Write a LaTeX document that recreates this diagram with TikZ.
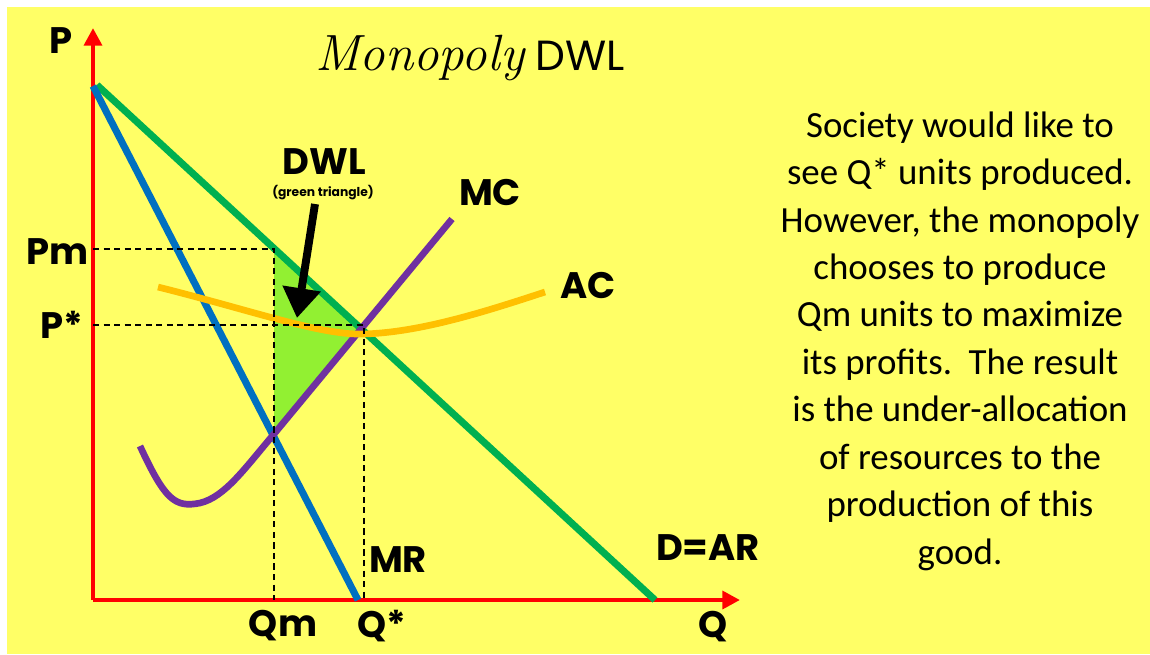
\documentclass[tikz,border=0pt]{standalone}
\usepackage{fontspec}
\setmainfont{Poppins}
\newfontfamily\notefont{Carlito}
\newfontfamily\titlefont{Latin Modern Roman}
\usetikzlibrary{arrows.meta}
\definecolor{bgyellow}{RGB}{255,255,102}
\definecolor{dgreen}{RGB}{0,176,80}
\definecolor{mrblue}{RGB}{0,112,192}
\definecolor{mcpurple}{RGB}{112,48,160}
\definecolor{acorange}{RGB}{255,192,0}
\definecolor{dwlfill}{RGB}{146,240,50}

\begin{document}
\begin{tikzpicture}[x=0.02cm,y=-0.02cm,>={Triangle[width=10pt,length=10pt]},
  lbl/.style={font=\fontsize{21}{24}\selectfont\bfseries},
  curve/.style={line width=4pt},
  guide/.style={line width=1.2pt,dash pattern=on 3.5pt off 2.5pt}]
\useasboundingbox (0,0) rectangle (1150,654);
\fill[bgyellow] (7,7) rectangle (1150,654);
% key points
\coordinate (O) at (93,600);
\coordinate (Ptop) at (93,28);
\coordinate (Qend) at (740,600);
\coordinate (dA) at (97,85);
\coordinate (dB) at (655,600);
\coordinate (mrA) at (93,86);
\coordinate (mrB) at (358,600);
\coordinate (top) at (274,249);
\coordinate (low) at (274,434);
\coordinate (eq) at (363,326);
\coordinate (mcEnd) at (452,219);
% dead weight loss
\fill[dwlfill] (top) -- (low) -- (eq) -- cycle;
% axes
\draw[->,red,line width=2.8pt] (O) -- (Ptop);
\draw[->,red,line width=2.8pt] (O) -- (Qend);
% curves
\draw[curve,dgreen] (dA) -- (dB);
\draw[curve,mrblue] (mrA) -- (mrB);
\draw[curve,mcpurple,line width=3.8pt] (140,446) .. controls (165,500) and (175,508) .. (200,503)
  .. controls (225,497) and (245,468) .. (low) -- (mcEnd);
\draw[curve,acorange,line width=3.8pt] (158,287) .. controls (250,310) and (320,335) .. (362,334)
  .. controls (420,333) and (490,310) .. (545,292);
% guides
\draw[guide] (93,249) -| (274,600);
\draw[guide] (93,325) -| (364,600);
% labels
\node[lbl] (pLab) at (61,41) {P};
\node[font=\fontsize{24}{28}\selectfont] (title) at (470,58) {{\titlefont\itshape\fontsize{29}{30}\selectfont Monopoly} DWL};
\node[lbl,inner sep=1pt] (dwl) at (324,162) {DWL};
\node[font=\fontsize{7}{8}\selectfont\bfseries,inner sep=1pt] (dwlNote) at (323,193) {(green triangle)};
\draw[-{Triangle[width=21pt,length=17pt]},line width=4.5pt] (315,204) -- (297,318);
\node[lbl] (mcLab) at (490,192) {MC};
\node[lbl] (acLab) at (588,285) {AC};
\node[lbl] (pmLab) at (58,252) {Pm};
\node[lbl] (psLab) at (62,325) {P*};
\node[lbl] (mrLab) at (398,560) {MR};
\node[lbl] (dLab) at (708,548) {D=AR};
\node[lbl] (qmLab) at (283,626) {Qm};
\node[lbl] (qsLab) at (382,626) {Q*};
\node[lbl] (qLab) at (713,627) {Q};
\node[font=\notefont\fontsize{21}{27}\selectfont,align=center] (note) at (960,341)
  {Society would like to\\see Q* units produced.\\However, the monopoly\\chooses to produce\\Qm units to maximize\\its profits.\ \ The result\\is the under-allocation\\of resources to the\\production of this\\good.};
\end{tikzpicture}
\end{document}
